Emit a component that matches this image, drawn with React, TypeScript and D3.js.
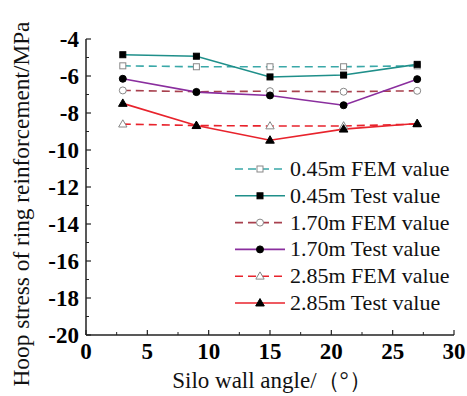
import React from "react";
import * as d3 from "d3";

const angles = [3, 9, 15, 21, 27];
const fem045 = [-5.45, -5.5, -5.5, -5.5, -5.45];
const test045 = [-4.85, -4.93, -6.05, -5.95, -5.37];
const fem170 = [-6.78, -6.85, -6.82, -6.85, -6.8];
const test170 = [-6.15, -6.87, -7.05, -7.58, -6.17];
const fem285 = [-8.6, -8.68, -8.7, -8.7, -8.6];
const test285 = [-7.48, -8.68, -9.47, -8.87, -8.57];

const xTicks = [0, 5, 10, 15, 20, 25, 30];
const yTicks = [-4, -6, -8, -10, -12, -14, -16, -18, -20];

const seriesNames = [
  "0.45m FEM value",
  "0.45m Test value",
  "1.70m FEM value",
  "1.70m Test value",
  "2.85m FEM value",
  "2.85m Test value",
];

type S = { name: string; values: number[]; color: string; dashed: boolean; marker: string; filled: boolean };
const series: S[] = [
  { name: seriesNames[0], values: fem045, color: "#3aa8a8", dashed: true, marker: "square", filled: false },
  { name: seriesNames[1], values: test045, color: "#1f8f8a", dashed: false, marker: "square", filled: true },
  { name: seriesNames[2], values: fem170, color: "#a8404e", dashed: true, marker: "circle", filled: false },
  { name: seriesNames[3], values: test170, color: "#8a2e9e", dashed: false, marker: "circle", filled: true },
  { name: seriesNames[4], values: fem285, color: "#e8232c", dashed: true, marker: "triangle", filled: false },
  { name: seriesNames[5], values: test285, color: "#e8232c", dashed: false, marker: "triangle", filled: true },
];

const W = 467, H = 396;
const x = d3.scaleLinear().domain([0, 30]).range([86, 454]);
const y = d3.scaleLinear().domain([-20, -4]).range([335, 39]);
const font = "Liberation Serif, DejaVu Serif, serif";

function Marker({ cx, cy, type, filled }: { cx: number; cy: number; type: string; filled: boolean }) {
  const fill = filled ? "#000" : "#fff";
  const stroke = filled ? "#000" : "#888";
  if (type === "square") {
    const s = 6;
    return <rect x={cx - s / 2} y={cy - s / 2} width={s} height={s} fill={fill} stroke={stroke} strokeWidth={1} />;
  }
  if (type === "circle") {
    return <circle cx={cx} cy={cy} r={3.5} fill={fill} stroke={stroke} strokeWidth={1} />;
  }
  const sym = d3.symbol().type(d3.symbolTriangle).size(filled ? 32 : 30)();
  return <path d={sym || ""} transform={`translate(${cx},${cy + 0.5})`} fill={fill} stroke={stroke} strokeWidth={1} />;
}

export default function App() {
  const line = d3.line<number>().x((_, i) => x(angles[i])).y((d) => y(d));
  const minorX = d3.range(2.5, 30, 5);
  const minorY = d3.range(-19, -4, 2);
  const legendX0 = 235, legendX1 = 285, legendY0 = 169, legendDy = 26.8;
  return (
    <svg width={W} height={H} style={{ position: "absolute", left: 0, top: 0, fontFamily: font }}>
      <rect width={W} height={H} fill="#fff" />
      <line x1={x(0)} x2={x(30)} y1={y(-20)} y2={y(-20)} stroke="#222" strokeWidth={1.5} />
      <line x1={x(0)} x2={x(0)} y1={y(-20)} y2={y(-4)} stroke="#222" strokeWidth={1.5} />
      {xTicks.map((t) => (
        <g key={"xt" + t}>
          <line x1={x(t)} x2={x(t)} y1={y(-20)} y2={y(-20) - 5} stroke="#222" strokeWidth={1.2} />
          <text x={x(t)} y={359} textAnchor="middle" style={{ fontFamily: font }} fontWeight="bold" fontSize={23} fill="#000">
            {t}
          </text>
        </g>
      ))}
      {minorX.map((t) => (
        <line key={"mx" + t} x1={x(t)} x2={x(t)} y1={y(-20)} y2={y(-20) - 3} stroke="#222" strokeWidth={1} />
      ))}
      {yTicks.map((t) => (
        <g key={"yt" + t}>
          <line x1={x(0)} x2={x(0) + 5} y1={y(t)} y2={y(t)} stroke="#222" strokeWidth={1.2} />
          <text x={79} y={y(t) + 8} textAnchor="end" style={{ fontFamily: font }} fontWeight="bold" fontSize={23} fill="#000">
            {t}
          </text>
        </g>
      ))}
      {minorY.map((t) => (
        <line key={"my" + t} x1={x(0)} x2={x(0) + 3} y1={y(t)} y2={y(t)} stroke="#222" strokeWidth={1} />
      ))}
      {series.map((s) => (
        <path
          key={"l" + s.name}
          d={line(s.values) || ""}
          fill="none"
          stroke={s.color}
          strokeWidth={1.6}
          strokeDasharray={s.dashed ? "8,5" : undefined}
        />
      ))}
      {series.map((s) =>
        s.values.map((v, i) => (
          <Marker key={"m" + s.name + i} cx={x(angles[i])} cy={y(v)} type={s.marker} filled={s.filled} />
        ))
      )}
      {series.map((s, i) => {
        const ly = legendY0 + i * legendDy;
        return (
          <g key={"lg" + s.name}>
            <line x1={legendX0} x2={legendX1} y1={ly} y2={ly} stroke={s.color} strokeWidth={1.6} strokeDasharray={s.dashed ? "8,5" : undefined} />
            <Marker cx={(legendX0 + legendX1) / 2} cy={ly} type={s.marker} filled={s.filled} />
            <text x={290} y={ly + 7} style={{ fontFamily: font }} fontSize={22} fill="#111">
              {s.name}
            </text>
          </g>
        );
      })}
      <text x={272} y={388} textAnchor="middle" style={{ fontFamily: font }} fontSize={23} fill="#111">
        Silo wall angle/（°）
      </text>
      <text
        transform={`translate(29,204) rotate(-90)`}
        textAnchor="middle"
        style={{ fontFamily: font }}
        fontSize={23.3}
        fill="#111"
      >
        Hoop stress of ring reinforcement/MPa
      </text>
    </svg>
  );
}
